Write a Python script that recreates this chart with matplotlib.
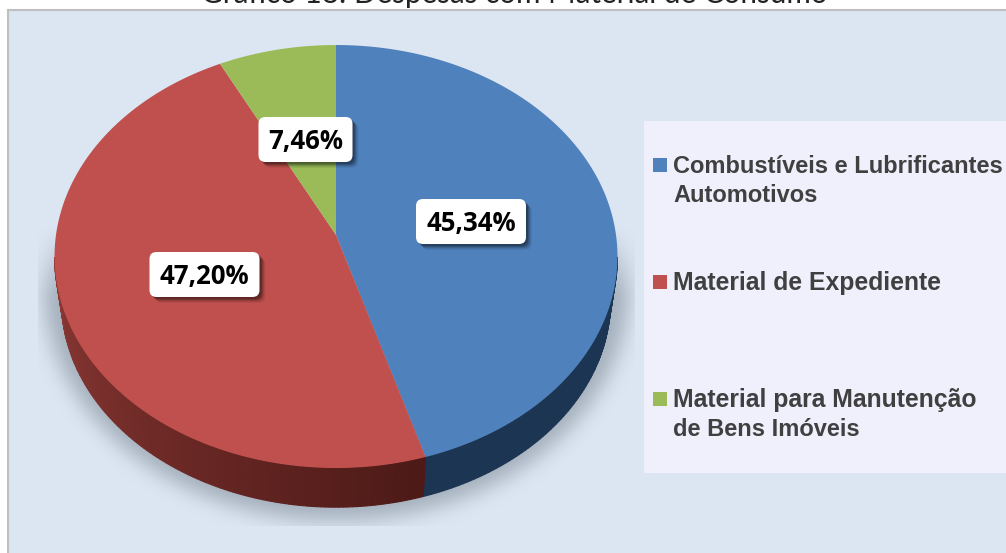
import numpy as np
import matplotlib
matplotlib.use('Agg')
import matplotlib.pyplot as plt
from matplotlib.patches import FancyBboxPatch, Rectangle

# Data
categories = [['Combustíveis e Lubrificantes', 'Automotivos'], ['Material de Expediente'],
              ['Material para Manutenção', 'de Bens Imóveis']]
values = [45.34, 47.20, 7.46]
value_labels = ['45,34%', '47,20%', '7,46%']
title = 'Gráfico 18: Despesas com Material de Consumo'

# Colours
top_colors = ['#4f81bd', '#c0504d', '#9bbb59']
wall_left = ['#1b3552', '#933c38', '#5f7a30']
wall_right = ['#1b3552', '#4d1a17', '#5f7a30']

# Layout in pixels of the picture
W, H = 1006, 553
apex = (336, 235)
a, b, k = 280.0, 209.3, 0.1017
wall_scale, wall_drop = 0.975, 45
label_centers = [(471, 221.5), (204.5, 274.5), (305.5, 139.5)]
label_size = [(110, 45), (110, 45), (94, 45)]
legend_y = [165, 282, 399]
legend_sizes = [[17, 17], [17.8], [17.8, 17]]


def rim(t):
    # circle seen in perspective, t clockwise from the top
    u, v = np.sin(t), np.cos(t)
    w = 1 + k * v
    return apex[0] + u * a / w, apex[1] - b * v / w


def rim_low(t):
    x, y = rim(t)
    return apex[0] + (x - apex[0]) * wall_scale, apex[1] + (y - apex[1]) * wall_scale + wall_drop


def box_blur(img, size, passes=3):
    kernel = np.ones(size) / size
    for _ in range(passes):
        img = np.apply_along_axis(lambda r: np.convolve(r, kernel, mode='same'), 0, img)
        img = np.apply_along_axis(lambda r: np.convolve(r, kernel, mode='same'), 1, img)
    return img


fig = plt.figure(figsize=(W / 100, H / 100), dpi=100, facecolor='white')
ax = fig.add_axes([0, 0, 1, 1])
ax.set_xlim(0, W)
ax.set_ylim(H, 0)
ax.axis('off')

# Panel
ax.add_patch(Rectangle((8, 9.5), W, H, fc='#dce6f2', ec='#bfbfbf', lw=1.5, zorder=1))

# Soft shadow under the pie
yy, xx = np.mgrid[0:H, 0:W]
mask = (((xx - 336) / 292.0) ** 2 + ((yy - 288) / 232.0) ** 2 < 1).astype(float)
shade = box_blur(mask, 19)
shade *= np.clip((yy - 225) / 70.0, 0, 1)
shade[(yy > 525) | (xx < 38) | (xx > 634)] = 0
rgba = np.zeros((H, W, 4))
rgba[..., :3] = matplotlib.colors.to_rgb('#8a95a3')
rgba[..., 3] = shade * 0.68
ax.imshow(rgba, extent=(0, W, H, 0), zorder=2, aspect='auto', interpolation='bilinear')
ax.set_xlim(0, W)
ax.set_ylim(H, 0)

# Wedges
edges = np.radians(np.cumsum([0] + values) * 3.6)
for i in range(len(values)):
    t0, t1 = edges[i], edges[i + 1]
    # side wall, only on the front half
    ts = np.linspace(t0, t1, 200)
    for s0, s1 in zip(ts[:-1], ts[1:]):
        mid = (s0 + s1) / 2
        if np.cos(mid) > -0.1:
            continue
        f = np.clip((np.radians(275) - mid) / np.radians(110), 0, 1)
        col = np.array(matplotlib.colors.to_rgb(wall_left[i])) * (1 - f) + \
            np.array(matplotlib.colors.to_rgb(wall_right[i])) * f
        x0, y0 = rim(s0)
        x1, y1 = rim(s1)
        x2, y2 = rim_low(s1)
        x3, y3 = rim_low(s0)
        ax.fill([x0, x1, x2, x3], [y0, y1, y2, y3], color=col, lw=0.8, zorder=3)
for i in range(len(values)):
    ts = np.linspace(edges[i], edges[i + 1], 300)
    rx, ry = rim(ts)
    ax.fill(np.r_[apex[0], rx], np.r_[apex[1], ry], color=top_colors[i], lw=0, zorder=4)

# Value labels
for (cx, cy), (bw, bh), lab in zip(label_centers, label_size, value_labels):
    for off, alpha in [(7, 0.06), (6, 0.08), (5, 0.12), (4, 0.16), (3, 0.2)]:
        ax.add_patch(FancyBboxPatch((cx - bw / 2 + 7 + off - 1, cy - bh / 2 + 7 + off - 1), bw - 14, bh - 14,
                                    boxstyle='round,pad=7,rounding_size=7', fc='black', ec='none',
                                    alpha=alpha, zorder=5))
    ax.add_patch(FancyBboxPatch((cx - bw / 2 + 7, cy - bh / 2 + 7), bw - 14, bh - 14,
                                boxstyle='round,pad=7,rounding_size=7', fc='white', ec='none', zorder=6))
    ax.text(cx, cy + 2, lab, ha='center', va='center', fontsize=18.5, fontweight='bold',
            family='Open Sans', color='black', zorder=7)

# Legend
ax.add_patch(Rectangle((644, 121), W - 644, 352, fc='#f0f0fd', ec='none', zorder=3))
for y, lines, sizes, col in zip(legend_y, categories, legend_sizes, top_colors):
    ax.add_patch(Rectangle((653, y - 7), 14, 14, fc=col, ec='none', zorder=3))
    for j, line in enumerate(lines):
        ax.text(673, y + 8 + j * 29.5, line, ha='left', va='baseline', fontsize=sizes[j], fontweight='bold',
                family='Liberation Sans', color='#404040', zorder=3)

# Title cut by the top of the picture
ax.text(514.5, 8, title, ha='center', va='bottom', fontsize=21.3, family='Lato', color='#222222',
        zorder=8, clip_on=True)

fig.savefig('out.png', dpi=100)
